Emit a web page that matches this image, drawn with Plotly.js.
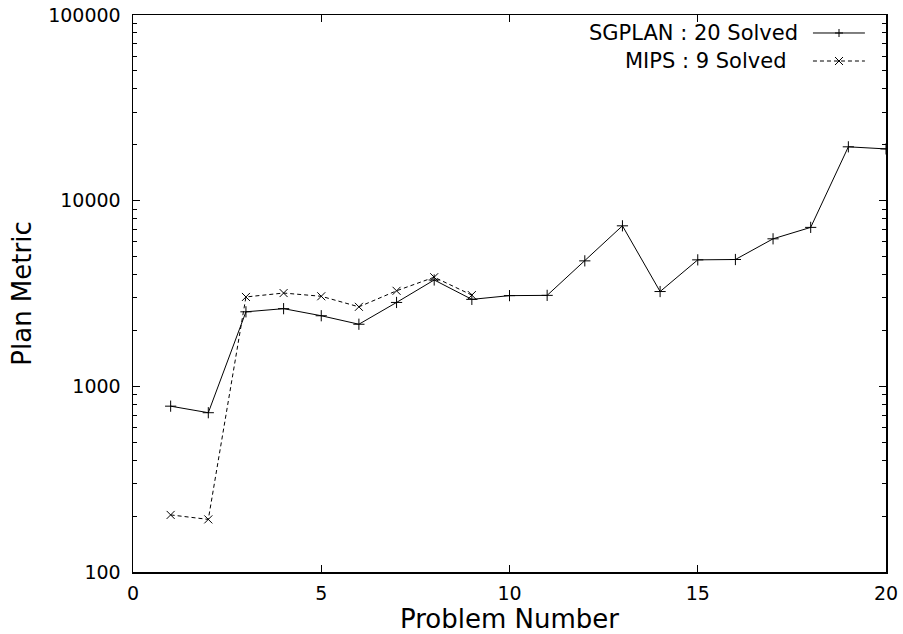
<!DOCTYPE html>
<html>
<head>
<meta charset="utf-8">
<script src="https://cdn.plot.ly/plotly-3.0.1.min.js"></script>
<style>html,body{margin:0;padding:0;background:#fff;}#chart{width:903px;height:634px;}</style>
</head>
<body>
<div id="chart"></div>
<script>
var problems = [1,2,3,4,5,6,7,8,9,10,11,12,13,14,15,16,17,18,19,20];
var sgplanValues = [782,721,2520,2620,2400,2160,2830,3740,2940,3080,3090,4740,7320,3240,4800,4820,6230,7180,19500,19000];
var mipsProblems = [1,2,3,4,5,6,7,8,9];
var mipsValues = [203,192,3030,3180,3055,2680,3270,3870,3100];
var yTickVals = [100,1000,10000,100000];
var yTickText = ['100','1000','10000','100000'];
var xTickVals = [0,5,10,15,20];
var sgplanLabel = 'SGPLAN : 20 Solved';
var mipsLabel = 'MIPS : 9 Solved';

var FONT = 'DejaVu Sans, Liberation Sans, Arial, sans-serif';

var traces = [
  {x: problems, y: sgplanValues, type: 'scatter', mode: 'lines+markers', name: sgplanLabel,
   line: {color: '#000', width: 1},
   marker: {symbol: 'cross-thin-open', size: 8, line: {color: '#000', width: 1}}},
  {x: mipsProblems, y: mipsValues, type: 'scatter', mode: 'lines+markers', name: mipsLabel,
   line: {color: '#000', width: 1, dash: '4px,3px'},
   marker: {symbol: 'x-thin-open', size: 8, line: {color: '#000', width: 1}}}
];

// legend (gnuplot style: text right-aligned, sample on the right)
var lx0 = 0.903, lx1 = 0.972, lxc = 0.9376;
var ly1 = 0.9677, ly2 = 0.9174;
function cross(xa, ya, plus) {
  var s = 4;
  var common = {type: 'line', xref: 'paper', yref: 'paper', xsizemode: 'pixel', ysizemode: 'pixel',
                xanchor: xa, yanchor: ya, line: {color: '#000', width: 1}};
  if (plus) {
    return [Object.assign({x0: -s, x1: s, y0: 0, y1: 0}, common),
            Object.assign({x0: 0, x1: 0, y0: -s, y1: s}, common)];
  }
  return [Object.assign({x0: -s, x1: s, y0: -s, y1: s}, common),
          Object.assign({x0: -s, x1: s, y0: s, y1: -s}, common)];
}
var shapes = [
  {type: 'line', xref: 'paper', yref: 'paper', x0: lx0, x1: lx1, y0: ly1, y1: ly1, line: {color: '#000', width: 1}},
  {type: 'line', xref: 'paper', yref: 'paper', x0: lx0, x1: lx1, y0: ly2, y1: ly2, line: {color: '#000', width: 1, dash: '4px,3px'}}
].concat(cross(lxc, ly1, true)).concat(cross(lxc, ly2, false));

var annotations = [
  {xref: 'paper', yref: 'paper', x: 0.8858, y: ly1, xanchor: 'right', yanchor: 'middle', showarrow: false,
   text: sgplanLabel, font: {family: FONT, size: 21, color: '#000'}},
  {xref: 'paper', yref: 'paper', x: 0.8698, y: ly2, xanchor: 'right', yanchor: 'middle', showarrow: false,
   text: mipsLabel, font: {family: FONT, size: 21, color: '#000'}}
];

var layout = {
  width: 903, height: 634,
  margin: {l: 133, r: 17, t: 15, b: 62, pad: 0},
  paper_bgcolor: '#fff', plot_bgcolor: '#fff',
  showlegend: false,
  font: {family: FONT, size: 19, color: '#000'},
  xaxis: {
    range: [0, 20], tickvals: xTickVals, ticks: 'inside', ticklen: 7, tickwidth: 1, tickcolor: '#000',
    showline: true, linecolor: '#000', linewidth: 1.5, mirror: 'ticks', showgrid: false, zeroline: false,
    tickfont: {family: FONT, size: 19, color: '#000'}, ticklabelstandoff: 4,
    title: {text: 'Problem Number', font: {family: FONT, size: 26, color: '#000'}, standoff: 5}
  },
  yaxis: {
    type: 'log', range: [2, 5], tickvals: yTickVals, ticktext: yTickText,
    ticks: 'inside', ticklen: 7, tickwidth: 1, tickcolor: '#000',
    minor: {ticks: 'inside', ticklen: 4, tickwidth: 1, tickcolor: '#000', dtick: 'D1', showgrid: false},
    showline: true, linecolor: '#000', linewidth: 1.5, mirror: 'ticks', showgrid: false, zeroline: false,
    tickfont: {family: FONT, size: 19, color: '#000'}, ticklabelstandoff: 7,
    title: {text: 'Plan Metric', font: {family: FONT, size: 26, color: '#000'}, standoff: 9}
  },
  shapes: shapes,
  annotations: annotations
};

Plotly.newPlot('chart', traces, layout, {staticPlot: true, displayModeBar: false});
</script>
</body>
</html>
